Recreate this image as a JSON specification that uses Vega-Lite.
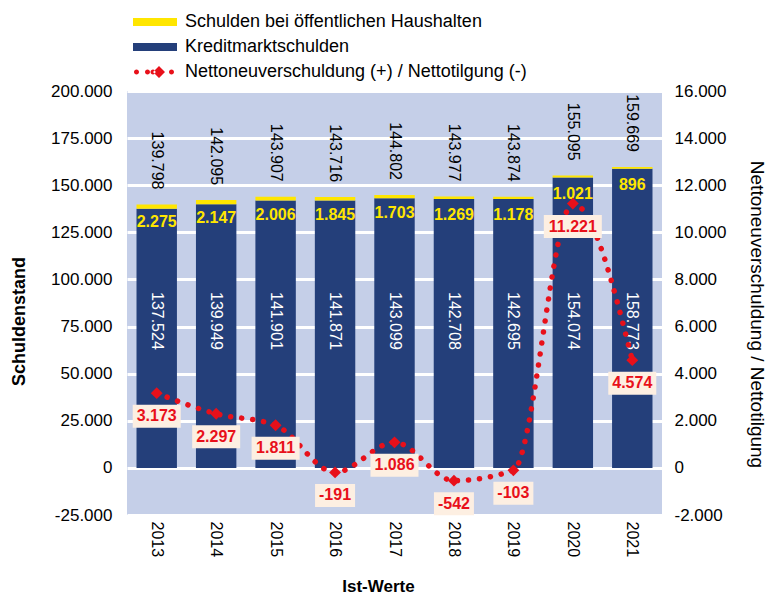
{
  "$schema": "https://vega.github.io/schema/vega-lite/v6.json",
  "width": 535,
  "height": 424,
  "autosize": {"type": "none"},
  "padding": {"left": 127, "top": 91, "right": 106, "bottom": 82},
  "background": "white",
  "config": {
    "locale": {"number": {"decimal": ",", "thousands": ".", "grouping": [3], "currency": ["", " €"], "minus": "-"}},
    "font": "Liberation Sans",
    "view": {"fill": "#c5cfe8", "stroke": null},
    "axis": {"labelFont": "Liberation Sans", "titleFont": "Liberation Sans", "labelColor": "#000000", "titleColor": "#000000", "ticks": false, "domain": false}
  },
  "datasets": {
    "jahre": [
      {"Jahr": "2013", "Kredit": 137524, "Oeff": 2275, "Gesamt": 139798, "Netto": 3173},
      {"Jahr": "2014", "Kredit": 139949, "Oeff": 2147, "Gesamt": 142095, "Netto": 2297},
      {"Jahr": "2015", "Kredit": 141901, "Oeff": 2006, "Gesamt": 143907, "Netto": 1811},
      {"Jahr": "2016", "Kredit": 141871, "Oeff": 1845, "Gesamt": 143716, "Netto": -191},
      {"Jahr": "2017", "Kredit": 143099, "Oeff": 1703, "Gesamt": 144802, "Netto": 1086},
      {"Jahr": "2018", "Kredit": 142708, "Oeff": 1269, "Gesamt": 143977, "Netto": -542},
      {"Jahr": "2019", "Kredit": 142695, "Oeff": 1178, "Gesamt": 143874, "Netto": -103},
      {"Jahr": "2020", "Kredit": 154074, "Oeff": 1021, "Gesamt": 155095, "Netto": 11221},
      {"Jahr": "2021", "Kredit": 158773, "Oeff": 896, "Gesamt": 159669, "Netto": 4574}
    ]
  },
  "data": {"name": "jahre"},
  "encoding": {
    "x": {
      "field": "Jahr",
      "type": "ordinal",
      "scale": {"paddingInner": 0.32, "paddingOuter": 0.16},
      "axis": {"title": "Ist-Werte", "labelAngle": 90, "labelFontSize": 16, "labelPadding": 6, "titleFontSize": 17, "titleFontWeight": "bold", "titleX": 251, "titleY": 71, "titleAlign": "center", "titleBaseline": "middle", "grid": false}
    }
  },
  "layer": [
    {
      "transform": [{"fold": ["Kredit", "Oeff"], "as": ["Reihe", "Betrag"]}],
      "mark": {"type": "bar"},
      "encoding": {
        "y": {
          "field": "Betrag",
          "type": "quantitative",
          "stack": "zero",
          "scale": {"domain": [-25000, 200000], "nice": false, "zero": false},
          "axis": {
            "orient": "left",
            "title": "Schuldenstand",
            "values": [-25000, 0, 25000, 50000, 75000, 100000, 125000, 150000, 175000, 200000],
            "format": ",d",
            "labelFontSize": 17,
            "labelPadding": 15,
            "titleFontSize": 18,
            "titleFontWeight": "bold",
            "titleAngle": -90,
            "titleX": -108,
            "titleY": 230,
            "titleAlign": "center",
            "titleBaseline": "middle",
            "grid": true,
            "gridColor": "#ffffff",
            "gridWidth": 3,
            "gridOpacity": 1
          }
        },
        "color": {
          "field": "Reihe",
          "type": "nominal",
          "scale": {"domain": ["Oeff", "Kredit", "Netto"], "range": ["#ffe600", "#243f7a", "#e8101a"]},
          "legend": {
            "orient": "none",
            "legendX": 6,
            "legendY": -78,
            "title": null,
            "direction": "vertical",
            "padding": 0,
            "labelFont": "Liberation Sans",
            "labelFontSize": 18,
            "labelColor": "#000000",
            "labelLimit": 500,
            "rowPadding": 7,
            "symbolSize": 4,
            "labelExpr": "datum.value == 'Oeff' ? 'Schulden bei öffentlichen Haushalten' : datum.value == 'Kredit' ? 'Kreditmarktschulden' : 'Nettoneuverschuldung (+) / Nettotilgung (-)'",
            "encode": {
              "symbols": {
                "update": {
                  "shape": {"signal": "datum.value == 'Netto' ? 'M-21,0a2.5,2.5 0 1,0 5,0a2.5,2.5 0 1,0 -5,0Z M-10,0a2.5,2.5 0 1,0 5,0a2.5,2.5 0 1,0 -5,0Z M-4.5,0a2.5,2.5 0 1,0 5,0a2.5,2.5 0 1,0 -5,0Z M-2,0L4,-6L10,0L4,6Z M14,0a2.5,2.5 0 1,0 5,0a2.5,2.5 0 1,0 -5,0Z' : 'M-22,-4H22V4H-22Z'"},
                  "size": {"value": 4},
                  "fill": {"scale": "color", "field": "value"},
                  "stroke": {"value": "transparent"},
                  "strokeWidth": {"value": 0},
                  "opacity": {"value": 1},
                  "x": {"value": 22}
                }
              },
              "labels": {"update": {"x": {"value": 52}}}
            }
          }
        },
        "order": {"field": "Reihe", "sort": "ascending"}
      }
    },
    {
      "mark": {"type": "text", "angle": 90, "align": "right", "baseline": "middle", "yOffset": -15, "fontSize": 16, "color": "#000000"},
      "encoding": {
        "y": {"field": "Gesamt", "type": "quantitative", "scale": {"domain": [-25000, 200000], "nice": false, "zero": false}, "axis": null},
        "text": {"field": "Gesamt", "type": "quantitative", "format": ","}
      }
    },
    {
      "mark": {"type": "text", "align": "center", "baseline": "middle", "yOffset": 18, "fontSize": 16, "fontWeight": "bold", "color": "#ffe600"},
      "encoding": {
        "y": {"field": "Gesamt", "type": "quantitative", "scale": {"domain": [-25000, 200000], "nice": false, "zero": false}, "axis": null},
        "text": {"field": "Oeff", "type": "quantitative", "format": ","}
      }
    },
    {
      "mark": {"type": "text", "angle": 90, "align": "center", "baseline": "middle", "fontSize": 16, "color": "#ffffff"},
      "encoding": {
        "y": {"datum": 78000, "type": "quantitative", "scale": {"domain": [-25000, 200000], "nice": false, "zero": false}, "axis": null},
        "text": {"field": "Kredit", "type": "quantitative", "format": ","}
      }
    },
    {
      "mark": {"type": "line", "interpolate": "monotone", "strokeWidth": 5.5, "strokeDash": [0.1, 11], "strokeCap": "round"},
      "encoding": {
        "y": {
          "field": "Netto",
          "type": "quantitative",
          "scale": {"domain": [-2000, 16000], "nice": false, "zero": false},
          "axis": {
            "orient": "right",
            "title": "Nettoneuverschuldung / Nettotilgung",
            "values": [-2000, 0, 2000, 4000, 6000, 8000, 10000, 12000, 14000, 16000],
            "format": ",d",
            "labelFontSize": 17,
            "labelPadding": 12,
            "titleFontSize": 19,
            "titleFontWeight": "normal",
            "titleAngle": 90,
            "titleX": 94,
            "titleY": 223,
            "titleAlign": "center",
            "titleBaseline": "middle",
            "grid": false
          }
        },
        "color": {"datum": "Netto", "type": "nominal"}
      }
    },
    {
      "mark": {"type": "point", "shape": "diamond", "filled": true, "size": 140, "opacity": 1, "color": "#e8101a"},
      "encoding": {
        "y": {"field": "Netto", "type": "quantitative", "scale": {"domain": [-2000, 16000], "nice": false, "zero": false}, "axis": null}
      }
    },
    {
      "mark": {"type": "point", "filled": true, "size": 4, "opacity": 1, "fill": "#fdefe2", "strokeWidth": 0, "yOffset": 23},
      "encoding": {
        "y": {"field": "Netto", "type": "quantitative", "scale": {"domain": [-2000, 16000], "nice": false, "zero": false}, "axis": null},
        "shape": {
          "condition": [
            {"test": "abs(datum.Netto) >= 10000", "value": "M-29,-11.5H29V11.5H-29Z"},
            {"test": "abs(datum.Netto) >= 1000", "value": "M-24,-11.5H24V11.5H-24Z"}
          ],
          "value": "M-20,-11.5H20V11.5H-20Z"
        }
      }
    },
    {
      "mark": {"type": "text", "align": "center", "baseline": "middle", "yOffset": 23, "fontSize": 16, "fontWeight": "bold", "color": "#e8101a"},
      "encoding": {
        "y": {"field": "Netto", "type": "quantitative", "scale": {"domain": [-2000, 16000], "nice": false, "zero": false}, "axis": null},
        "text": {"field": "Netto", "type": "quantitative", "format": ","}
      }
    }
  ],
  "resolve": {"scale": {"y": "independent"}}
}
